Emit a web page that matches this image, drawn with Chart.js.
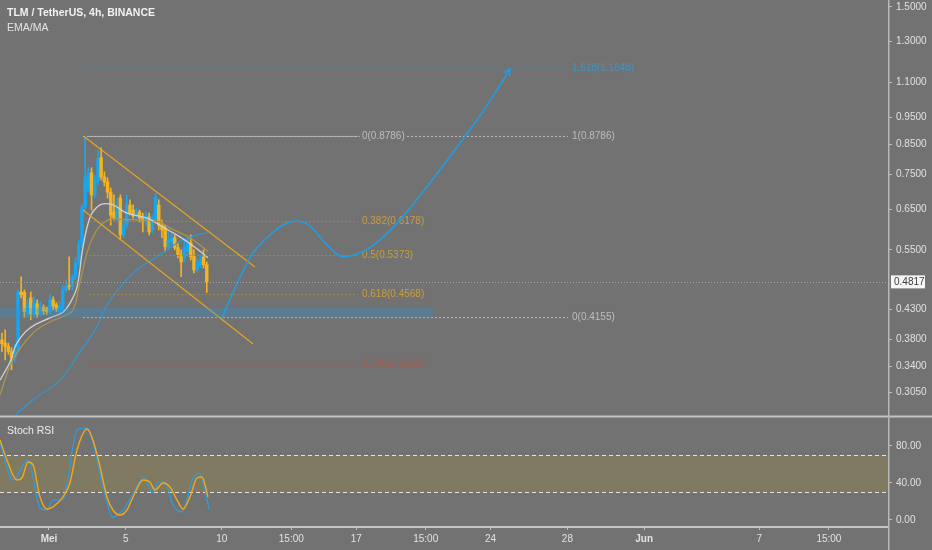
<!DOCTYPE html>
<html>
<head>
    <title>TLM / TetherUS, 4h, BINANCE</title>
    <style>
        body { margin: 0; background: #727272; overflow: hidden; }
        #wrap { position: relative; width: 932px; height: 550px; }
        #priceCanvas { position: absolute; left: 0; top: 0; }
        #rsiCanvas { position: absolute; left: 0; top: 415px; }
    </style>
    <script src="https://cdn.jsdelivr.net/npm/chart.js"></script>
</head>
<body>

<div id="wrap">
    <canvas id="priceCanvas" width="932" height="415"></canvas>
    <canvas id="rsiCanvas" width="932" height="135"></canvas>
</div>

<script>
    // time axis is in days of May (1 = 1 Mei), candles are 4h bars
    const dayTicks = [1, 5, 10, 13.62, 17, 20.62, 24, 28, 32, 38, 41.62];
    const dayLabels = ['Mei', '5', '10', '15:00', '17', '15:00', '24', '28', 'Jun', '7', '15:00'];
    const priceTicks = [1.5, 1.3, 1.1, 0.95, 0.85, 0.75, 0.65, 0.55, 0.43, 0.38, 0.34, 0.305];
    const rsiTicks = [0, 40, 80];

    const firstBarDay = -1.45;
    const opens = [0.379, 0.374, 0.369, 0.361, 0.352, 0.364, 0.462, 0.461, 0.421, 0.451, 0.422, 0.440, 0.424, 0.433, 0.431, 0.426,
        0.447, 0.438, 0.427, 0.429, 0.466, 0.474, 0.472, 0.492, 0.521, 0.561, 0.656, 0.704, 0.756, 0.690, 0.728, 0.805,
        0.743, 0.728, 0.698, 0.643, 0.627, 0.681, 0.585, 0.609, 0.662, 0.648, 0.632, 0.643, 0.630, 0.617, 0.630, 0.597,
        0.622, 0.662, 0.609, 0.602, 0.555, 0.568, 0.578, 0.555, 0.539, 0.532, 0.546, 0.566, 0.536, 0.506, 0.517, 0.534, 0.517];
    const highs = [0.390, 0.395, 0.374, 0.367, 0.372, 0.466, 0.492, 0.466, 0.447, 0.462, 0.453, 0.447, 0.444, 0.438, 0.434, 0.457,
        0.453, 0.442, 0.444, 0.474, 0.486, 0.534, 0.496, 0.532, 0.573, 0.662, 0.8786, 0.772, 0.772, 0.749, 0.831, 0.838,
        0.759, 0.740, 0.710, 0.690, 0.681, 0.690, 0.622, 0.690, 0.676, 0.662, 0.653, 0.648, 0.640, 0.643, 0.640, 0.635,
        0.695, 0.676, 0.622, 0.609, 0.597, 0.590, 0.585, 0.564, 0.550, 0.573, 0.578, 0.585, 0.550, 0.532, 0.539, 0.550, 0.523];
    const lows = [0.361, 0.349, 0.357, 0.335, 0.346, 0.361, 0.451, 0.416, 0.416, 0.412, 0.416, 0.416, 0.419, 0.421, 0.421, 0.422,
        0.429, 0.426, 0.424, 0.426, 0.462, 0.466, 0.466, 0.486, 0.515, 0.555, 0.648, 0.698, 0.648, 0.681, 0.719, 0.734,
        0.716, 0.681, 0.609, 0.622, 0.617, 0.573, 0.578, 0.602, 0.635, 0.627, 0.627, 0.617, 0.592, 0.609, 0.585, 0.590,
        0.617, 0.597, 0.578, 0.546, 0.550, 0.561, 0.550, 0.532, 0.492, 0.523, 0.536, 0.527, 0.500, 0.502, 0.510, 0.510, 0.461];
    const closes = [0.373, 0.369, 0.361, 0.352, 0.364, 0.462, 0.457, 0.426, 0.438, 0.422, 0.442, 0.421, 0.434, 0.427, 0.426, 0.447,
        0.436, 0.431, 0.436, 0.466, 0.472, 0.472, 0.492, 0.521, 0.561, 0.656, 0.743, 0.756, 0.690, 0.734, 0.801, 0.743,
        0.728, 0.698, 0.635, 0.627, 0.662, 0.585, 0.609, 0.662, 0.640, 0.632, 0.643, 0.627, 0.617, 0.632, 0.592, 0.627,
        0.684, 0.609, 0.597, 0.557, 0.573, 0.578, 0.555, 0.539, 0.523, 0.555, 0.566, 0.534, 0.506, 0.523, 0.527, 0.517, 0.4817];
    const lastPrice = 0.4817;

    const emaFastX = [-1.55, -1.03, -0.67, 0.01, 1.05, 1.73, 2.09, 2.46, 2.77, 3.14, 3.5, 3.81, 4.33, 5.06, 6.1, 6.94, 7.82, 8.6, 9.28];
    const emaFast = [0.321, 0.346, 0.374, 0.398, 0.415, 0.425, 0.441, 0.472, 0.556, 0.630, 0.656, 0.665, 0.662, 0.640, 0.627, 0.604, 0.580, 0.556, 0.532];
    const emaSlowX = [-1.55, -0.88, 0.17, 1.05, 1.83, 2.25, 2.62, 2.98, 3.29, 3.66, 4.18, 4.7, 5.74, 6.63, 7.3, 8.19, 8.71, 9.28];
    const emaSlow = [0.302, 0.349, 0.390, 0.408, 0.419, 0.429, 0.482, 0.543, 0.580, 0.607, 0.624, 0.624, 0.622, 0.620, 0.602, 0.582, 0.566, 0.546];
    const maLongX = [-1.03, 0.17, 1.57, 2.62, 3.4, 4.18, 5.58, 6.63, 7.3, 7.98, 8.71, 9.28];
    const maLong = [0.272, 0.296, 0.321, 0.361, 0.395, 0.447, 0.506, 0.534, 0.555, 0.573, 0.585, 0.590];

    // projected path drawn on the chart
    const pathX = [10.01, 10.95, 11.63, 12.51, 13.29, 13.92, 14.59, 15.38, 16.31, 17.35, 18.24, 19.13, 20.84, 22.25, 23.29, 24.23, 25.01];
    const pathY = [0.415, 0.4915, 0.543, 0.585, 0.612, 0.6195, 0.607, 0.566, 0.534, 0.546, 0.573, 0.614, 0.725, 0.841, 0.940, 1.051, 1.16];

    // falling channel
    const channelX = [[2.82, 11.73], [2.77, 11.63]];
    const channelY = [[0.8786, 0.5123], [0.6483, 0.3726]];

    // fib retracement + extension
    const retrLevels = ['0', '0.382', '0.5', '0.618', '0.786'];
    const retrPrices = [0.8786, 0.6178, 0.5373, 0.4568, 0.3421];
    const retrSpan = [3.1, 17.1];
    const retrLabelDay = 17.3;
    const extLevels = ['1.618', '1', '0'];
    const extPrices = [1.1648, 0.8786, 0.4155];
    const extSpan = [2.77, 28.03];
    const extLabelDay = 28.24;

    // support zone
    const zoneX = [-2, 21.0];
    const zoneY = [0.4155, 0.4324];

    // stoch rsi
    const rsiKX = [-1.55, -0.88, -0.09, 0.53, 0.9, 1.21, 1.73, 1.94, 2.46, 2.98, 3.81, 4.33, 4.85, 5.58, 5.9, 6.42, 6.68, 7.04, 7.46, 7.93, 8.5, 8.81, 9.13, 9.33];
    const rsiK = [83.2, 43.2, 64.9, 13, 10.8, 21.6, 21.6, 40, 97.3, 99.5, 35.7, 3.2, 10.8, 35.7, 46.5, 29.2, 41.1, 41.1, 16.2, 8.6, 45.4, 50.8, 32.4, 11.9];
    const rsiDX = [-1.55, -1.19, -0.67, -0.41, -0.09, 0.17, 0.53, 0.9, 1.21, 1.73, 2.09, 2.46, 2.98, 3.29, 3.66, 4.02, 4.33, 4.7, 5.06, 5.38, 5.9, 6.26, 6.52, 6.94, 7.3, 7.67, 7.98, 8.34, 8.71, 8.97, 9.13, 9.28];
    const rsiD = [86.5, 64.9, 43.2, 45.4, 62.7, 59.5, 24.9, 11.9, 14.1, 24.9, 40, 75.7, 98.4, 86.5, 57.3, 24.9, 10.8, 5.4, 10.8, 24.9, 43.2, 41.1, 32.4, 40, 35.7, 21.6, 11.9, 24.9, 45.4, 46.5, 37.8, 24.9];
    const rsiBand = [30, 70];

    const FONT = '"Liberation Sans", Arial, sans-serif';
    const BG = '#727272';
    const UP = '#17a6ef', DOWN = '#f7b31d';
    const GRAY_FIB = '#bdbdbd', GOLD_FIB = '#c89e3e', RED_FIB = '#a55f50', BLUE_FIB = '#3f93c2';

    Chart.defaults.font.family = FONT;
    Chart.defaults.color = '#dedede';

    const xMin = -1.552, xMax = 44.698;
    const pts = (xs, ys) => xs.map((x, i) => ({ x: x, y: ys[i] }));
    const barDay = i => firstBarDay + i / 6;
    const noPad = s => { s.paddingTop = 0; s.paddingBottom = 0; s.paddingLeft = 0; s.paddingRight = 0; };

    function timeScale(show) {
        return {
            type: 'linear', min: xMin, max: xMax, bounds: 'data', offset: false, display: show,
            grid: { drawOnChartArea: false, drawTicks: true, tickLength: 3, color: '#bdbdbd', offset: false },
            border: { display: show, color: '#c4c4c4', width: 2 },
            ticks: {
                autoSkip: false, maxRotation: 0, padding: 3, color: '#e2e2e2',
                font: ctx => ({ size: 10, weight: (dayLabels[ctx.index] === 'Mei' || dayLabels[ctx.index] === 'Jun') ? 'bold' : 'normal' }),
                callback: (v, i) => dayLabels[i]
            },
            afterBuildTicks: s => { s.ticks = dayTicks.map(v => ({ value: v })); },
            afterFit: s => { noPad(s); if (show) s.height = 23; }
        };
    }

    function rightAxis(extra) {
        return Object.assign({
            position: 'right', bounds: 'data',
            grid: { drawOnChartArea: false, drawTicks: true, tickLength: 4, color: '#c0c0c0' },
            border: { display: false },
            afterFit: s => { s.width = 44; noPad(s); }
        }, extra);
    }

    function line(data, color, width, order, extra) {
        return Object.assign({ type: 'line', data: data, borderColor: color, borderWidth: width, pointRadius: 0, pointHitRadius: 0, fill: false, order: order }, extra || {});
    }

    // ---------- price pane ----------
    const datasets = [];
    datasets.push(line(pts(pathX, pathY), '#1f9ee0', 1.6, 0, { cubicInterpolationMode: 'monotone' }));
    const pathIndex = 0;
    channelX.forEach((xs, i) => datasets.push(line(pts(xs, channelY[i]), '#e5a420', 1.2, 1)));
    retrPrices.forEach((p, i) => {
        const c = i === 0 ? GRAY_FIB : (i === 4 ? RED_FIB : '#a88a45');
        datasets.push(line(pts(retrSpan, [p, p]), c, 1, 1, { borderDash: [2, 2] }));
    });
    extPrices.forEach((p, i) => {
        const c = i === 0 ? '#4a87a8' : GRAY_FIB;
        datasets.push(line(pts(extSpan, [p, p]), c, 1, 1, { borderDash: [2, 2] }));
    });
    datasets.push(line(pts(emaFastX, emaFast), '#d2d2d2', 1.3, 2, { tension: 0.4 }));
    datasets.push(line(pts(emaSlowX, emaSlow), '#b0934a', 1.3, 2, { tension: 0.4 }));
    datasets.push(line(pts(maLongX, maLong), '#2b9bd6', 1.1, 2, { tension: 0.4 }));

    const candleColors = closes.map((c, i) => c >= opens[i] ? UP : DOWN);
    datasets.push({
        type: 'bar', order: 3, grouped: false, barThickness: 2.8, minBarLength: 1, borderWidth: 0,
        data: closes.map((c, i) => ({ x: barDay(i), y: [opens[i], c] })),
        backgroundColor: candleColors
    });
    datasets.push({
        type: 'bar', order: 4, grouped: false, barThickness: 1, borderWidth: 0,
        data: closes.map((c, i) => ({ x: barDay(i), y: [lows[i], highs[i]] })),
        backgroundColor: candleColors
    });

    function drawFibLabel(ctx, text, x, y, color) {
        ctx.font = '10px ' + FONT;
        const w = ctx.measureText(text).width;
        ctx.fillStyle = BG;
        ctx.fillRect(x - 2, y - 6, w + 4, 12);
        ctx.fillStyle = color;
        ctx.textAlign = 'left';
        ctx.textBaseline = 'middle';
        ctx.fillText(text, x, y);
    }

    const priceDecor = {
        id: 'priceDecor',
        beforeDatasetDraw(chart, args) {
            if (args.index !== pathIndex) return;
            const { ctx, chartArea } = chart;
            const xs = chart.scales.x, ys = chart.scales.y;
            ctx.save();
            // zone
            const zx1 = Math.max(xs.getPixelForValue(zoneX[0]), chartArea.left);
            const zx2 = xs.getPixelForValue(zoneX[1]);
            const zy1 = ys.getPixelForValue(zoneY[1]), zy2 = ys.getPixelForValue(zoneY[0]);
            ctx.fillStyle = 'rgba(40,150,230,0.28)';
            ctx.fillRect(zx1, zy1, zx2 - zx1, zy2 - zy1);
            // fib labels
            retrPrices.forEach((p, i) => {
                const c = i === 0 ? GRAY_FIB : (i === 4 ? RED_FIB : GOLD_FIB);
                drawFibLabel(ctx, retrLevels[i] + '(' + p.toFixed(4) + ')', xs.getPixelForValue(retrLabelDay), ys.getPixelForValue(p), c);
            });
            extPrices.forEach((p, i) => {
                const c = i === 0 ? BLUE_FIB : GRAY_FIB;
                drawFibLabel(ctx, extLevels[i] + '(' + p.toFixed(4) + ')', xs.getPixelForValue(extLabelDay), ys.getPixelForValue(p), c);
            });
            ctx.restore();
        },
        afterDatasetsDraw(chart) {
            const { ctx, chartArea } = chart;
            const xs = chart.scales.x, ys = chart.scales.y;
            ctx.save();
            // arrow head on the path
            const n = pathX.length;
            const tx = xs.getPixelForValue(pathX[n - 1]), ty = ys.getPixelForValue(pathY[n - 1]);
            const px = xs.getPixelForValue(pathX[n - 2]), py = ys.getPixelForValue(pathY[n - 2]);
            const ang = Math.atan2(ty - py, tx - px);
            ctx.strokeStyle = '#1f9ee0';
            ctx.lineWidth = 1.6;
            ctx.beginPath();
            ctx.moveTo(tx - 7 * Math.cos(ang - 0.5), ty - 7 * Math.sin(ang - 0.5));
            ctx.lineTo(tx, ty);
            ctx.lineTo(tx - 7 * Math.cos(ang + 0.5), ty - 7 * Math.sin(ang + 0.5));
            ctx.stroke();
            // last price line
            const ly = Math.round(ys.getPixelForValue(lastPrice)) + 0.5;
            ctx.strokeStyle = '#a4a4a4';
            ctx.lineWidth = 1;
            ctx.setLineDash([1, 2]);
            ctx.beginPath();
            ctx.moveTo(chartArea.left, ly);
            ctx.lineTo(chartArea.right, ly);
            ctx.stroke();
            ctx.restore();
        },
        afterDraw(chart) {
            const { ctx, chartArea } = chart;
            const ys = chart.scales.y;
            ctx.save();
            ctx.strokeStyle = '#b8b8b8';
            ctx.lineWidth = 1.5;
            ctx.beginPath();
            ctx.moveTo(chartArea.right + 0.75, 0);
            ctx.lineTo(chartArea.right + 0.75, chart.height);
            ctx.stroke();
            // last price tag
            const ly = ys.getPixelForValue(lastPrice);
            ctx.fillStyle = '#f6f6f6';
            ctx.fillRect(chartArea.right + 3, ly - 6.5, 34, 13);
            ctx.fillStyle = '#3a3a3a';
            ctx.font = '10px ' + FONT;
            ctx.textBaseline = 'middle';
            ctx.fillText(lastPrice.toFixed(4), chartArea.right + 6, ly + 0.5);
            // titles
            ctx.fillStyle = '#f2f2f2';
            ctx.font = 'bold 10.5px ' + FONT;
            ctx.fillText('TLM / TetherUS, 4h, BINANCE', 7, 13);
            ctx.fillStyle = '#e4e4e4';
            ctx.font = '10.5px ' + FONT;
            ctx.fillText('EMA/MA', 7, 28);
            ctx.restore();
        }
    };

    new Chart(document.getElementById('priceCanvas'), {
        data: { datasets: datasets },
        options: {
            responsive: false, animation: false, events: [],
            layout: { padding: 0 },
            plugins: { legend: { display: false }, tooltip: { enabled: false } },
            scales: {
                x: timeScale(false),
                y: rightAxis({
                    type: 'logarithmic', min: 0.27786, max: 1.544,
                    ticks: { autoSkip: false, padding: 4, color: '#e0e0e0', font: { size: 10 }, callback: v => Number(v).toFixed(4) },
                    afterBuildTicks: s => { s.ticks = priceTicks.map(v => ({ value: v })); }
                })
            }
        },
        plugins: [priceDecor]
    });

    // ---------- stoch rsi pane ----------
    const rsiDecor = {
        id: 'rsiDecor',
        beforeDatasetsDraw(chart) {
            const { ctx, chartArea } = chart;
            const ys = chart.scales.y;
            const yTop = ys.getPixelForValue(rsiBand[1]), yBot = ys.getPixelForValue(rsiBand[0]);
            ctx.save();
            ctx.fillStyle = '#817a62';
            ctx.fillRect(chartArea.left, yTop, chartArea.right - chartArea.left, yBot - yTop);
            ctx.strokeStyle = '#e2e2e2';
            ctx.lineWidth = 1;
            ctx.setLineDash([4, 3]);
            [yTop, yBot].forEach(y => {
                ctx.beginPath();
                ctx.moveTo(chartArea.left, Math.round(y) + 0.5);
                ctx.lineTo(chartArea.right, Math.round(y) + 0.5);
                ctx.stroke();
            });
            ctx.restore();
        },
        afterDraw(chart) {
            const { ctx, chartArea } = chart;
            ctx.save();
            ctx.strokeStyle = '#c4c4c4';
            ctx.lineWidth = 2;
            ctx.beginPath();
            ctx.moveTo(0, 1.5);
            ctx.lineTo(chart.width, 1.5);
            ctx.stroke();
            ctx.strokeStyle = '#b8b8b8';
            ctx.lineWidth = 1.5;
            ctx.beginPath();
            ctx.moveTo(chartArea.right + 0.75, 0);
            ctx.lineTo(chartArea.right + 0.75, chart.height);
            ctx.stroke();
            ctx.fillStyle = '#ececec';
            ctx.font = '10.5px ' + FONT;
            ctx.textBaseline = 'middle';
            ctx.fillText('Stoch RSI', 7, 16);
            ctx.restore();
        }
    };

    new Chart(document.getElementById('rsiCanvas'), {
        data: {
            datasets: [
                line(pts(rsiDX, rsiD), '#f2a818', 1.4, 0, { cubicInterpolationMode: 'monotone' }),
                line(pts(rsiKX, rsiK), '#2a9ee3', 1.2, 1, { cubicInterpolationMode: 'monotone' })
            ]
        },
        options: {
            responsive: false, animation: false, events: [],
            layout: { padding: { top: 2 } },
            plugins: { legend: { display: false }, tooltip: { enabled: false } },
            scales: {
                x: timeScale(true),
                y: rightAxis({
                    type: 'linear', min: -7.57, max: 111.35,
                    ticks: { autoSkip: false, padding: 4, color: '#e0e0e0', font: { size: 10 }, callback: v => Number(v).toFixed(2) },
                    afterBuildTicks: s => { s.ticks = rsiTicks.map(v => ({ value: v })); }
                })
            }
        },
        plugins: [rsiDecor]
    });
</script>

</body>
</html>
